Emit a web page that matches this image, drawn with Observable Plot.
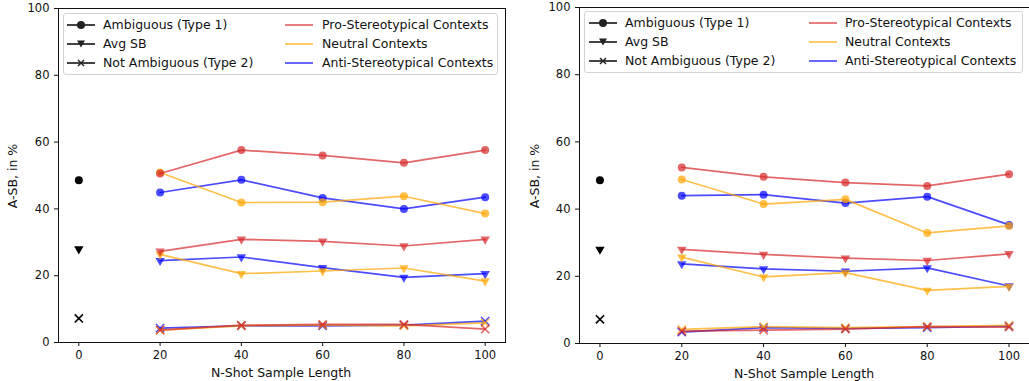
<!DOCTYPE html>
<html><head><meta charset="utf-8">
<script src="https://cdn.jsdelivr.net/npm/d3@7"></script>
<script src="https://cdn.jsdelivr.net/npm/@observablehq/plot@0.6"></script>
<style>
body{margin:0;background:#fff;font-family:"DejaVu Sans",sans-serif;}
#wrap{position:relative;width:1029px;height:381px;overflow:hidden;background:#fff;}
.panel{position:absolute;top:0;}
.legend{position:absolute;border:1px solid #d4d4d4;border-radius:3px;background:rgba(255,255,255,0.8);font-size:12.5px;color:#111;box-sizing:border-box;}
.item{position:absolute;height:14px;line-height:14px;white-space:nowrap;}
.item svg{position:absolute;left:0;top:1px;}
.lab{position:absolute;font-size:12.5px;color:#111;white-space:nowrap;line-height:14px;}
</style></head>
<body>
<div id="wrap"></div>
<script>
// ---------- data ----------
const shots = [20, 40, 60, 80, 100];
const metrics = ["Ambiguous (Type 1)", "Avg SB", "Not Ambiguous (Type 2)"];
const contexts = ["Pro-Stereotypical Contexts", "Neutral Contexts", "Anti-Stereotypical Contexts"];
const contextColors = ["#d62728", "#ffa500", "#0000ff"];
const baselineShot = 0;
const baselineValues = [48.6, 28.0, 7.2]; // zero-shot, per metric

// left panel: [metric][shot]
const leftPro     = [[50.6, 57.6, 56.0, 53.8, 57.6], [27.3, 30.9, 30.3, 28.9, 30.9], [3.7, 5.2, 5.4, 5.4, 4.0]];
const leftNeutral = [[50.9, 41.9, 42.0, 43.8, 38.6], [26.4, 20.6, 21.4, 22.3, 18.4], [3.7, 5.0, 5.2, 5.0, 5.9]];
const leftAnti    = [[44.9, 48.7, 43.3, 40.0, 43.5], [24.5, 25.6, 22.4, 19.5, 20.6], [4.3, 5.0, 5.0, 5.2, 6.4]];
// right panel
const rightPro     = [[52.4, 49.6, 47.9, 46.9, 50.4], [28.0, 26.5, 25.4, 24.7, 26.7], [3.7, 4.0, 4.3, 5.0, 4.9]];
const rightNeutral = [[48.8, 41.5, 42.9, 32.9, 35.0], [25.7, 19.8, 21.1, 15.8, 17.0], [4.2, 5.0, 4.7, 5.0, 5.4]];
const rightAnti    = [[44.0, 44.3, 41.8, 43.7, 35.3], [23.7, 22.2, 21.5, 22.5, 17.1], [3.4, 4.7, 4.5, 4.7, 5.2]];
const tickValues = [0, 20, 40, 60, 80, 100];
const xLabel = "N-Shot Sample Length";
const yLabel = "A-SB, in %";

// ---------- drawing ----------
function markerFor(mi, color, data, opacity) {
  if (mi === 0) return Plot.dot(data, {x: "x", y: "y", r: 4, fill: color, fillOpacity: opacity, stroke: "none"});
  if (mi === 1) return Plot.dot(data, {x: "x", y: "y", r: 3.5, symbol: "triangle", rotate: 180, fill: color, fillOpacity: opacity, stroke: "none"});
  return Plot.dot(data, {x: "x", y: "y", r: 3.8, symbol: "times", stroke: color, strokeOpacity: opacity, strokeWidth: 1.6, fill: "none"});
}

function panel(series, opts) {
  const marks = [];
  const order = [2, 1, 0];
  for (const ci of order) {
    for (let mi = 0; mi < 3; mi++) {
      const data = shots.map((s, i) => ({x: s, y: series[ci][mi][i]}));
      marks.push(Plot.line(data, {x: "x", y: "y", stroke: contextColors[ci], strokeOpacity: 0.7, strokeWidth: 1.7}));
      marks.push(markerFor(mi, contextColors[ci], data, 0.7));
    }
  }
  for (let mi = 0; mi < 3; mi++) {
    marks.push(markerFor(mi, "black", [{x: baselineShot, y: baselineValues[mi]}], 1));
  }
  return Plot.plot({
    width: opts.width, height: 381,
    marginLeft: opts.ml, marginRight: opts.mr, marginTop: opts.mt, marginBottom: opts.mb,
    style: {fontFamily: "DejaVu Sans", fontSize: "11.5px", background: "transparent", color: "#111", overflow: "visible"},
    x: {domain: [-5, 105]},
    y: {domain: [0, 100]},
    marks: [
      Plot.axisX({ticks: tickValues, tickSize: 4, tickPadding: 4, label: null, fontSize: 11.5}),
      Plot.axisY({ticks: tickValues, tickSize: 4, tickPadding: 5, label: null, fontSize: 11.5}),
      ...marks,
      Plot.frame({stroke: "#111", strokeWidth: 1})
    ]
  });
}

function handleSVG(mi, color, opacity) {
  let m = "";
  if (mi === 0) m = `<circle cx="14" cy="6" r="4" fill="${color}" fill-opacity="${opacity}"/>`;
  else if (mi === 1) m = `<polygon points="10,2.5 18,2.5 14,9.5" fill="${color}" fill-opacity="${opacity}"/>`;
  else if (mi === 2) m = `<g stroke="${color}" stroke-opacity="${opacity}" stroke-width="1.4"><line x1="11" y1="3" x2="17" y2="9"/><line x1="17" y1="3" x2="11" y2="9"/></g>`;
  return `<svg width="28" height="12"><line x1="0" y1="6" x2="28" y2="6" stroke="${color}" stroke-opacity="${opacity}" stroke-width="1.7"/>${m}</svg>`;
}

function legend(L) {
  const box = document.createElement("div");
  box.className = "legend";
  Object.assign(box.style, {left: L.left + "px", top: L.top + "px", width: L.w + "px", height: L.h + "px"});
  const rows = [11, 30, 49];
  metrics.forEach((name, i) => {
    const it = document.createElement("div");
    it.className = "item";
    Object.assign(it.style, {left: L.c1 + "px", top: (rows[i] - 7) + "px"});
    it.innerHTML = handleSVG(i, "#222", 1) + `<span style="position:absolute;left:${L.t1 - L.c1}px">${name}</span>`;
    box.appendChild(it);
  });
  contexts.forEach((name, i) => {
    const it = document.createElement("div");
    it.className = "item";
    Object.assign(it.style, {left: L.c2 + "px", top: (rows[i] - 7) + "px"});
    it.innerHTML = handleSVG(-1, contextColors[i], 0.7) + `<span style="position:absolute;left:${L.t2 - L.c2}px">${name}</span>`;
    box.appendChild(it);
  });
  return box;
}

function labels(cx, cy, yx, yy) {
  const a = document.createElement("div");
  a.className = "lab"; a.textContent = xLabel;
  Object.assign(a.style, {left: cx + "px", top: cy + "px", transform: "translate(-50%,-50%)"});
  wrap.appendChild(a);
  const b = document.createElement("div");
  b.className = "lab"; b.textContent = yLabel;
  Object.assign(b.style, {left: yx + "px", top: yy + "px", transform: "translate(-50%,-50%) rotate(-90deg)"});
  wrap.appendChild(b);
}

const wrap = document.getElementById("wrap");
const left = panel([leftPro, leftNeutral, leftAnti], {width: 520, ml: 58, mr: 15, mt: 8, mb: 39});
left.classList.add("panel"); left.style.left = "0px";
wrap.appendChild(left);
const right = panel([rightPro, rightNeutral, rightAnti], {width: 510, ml: 59, mr: 1, mt: 7, mb: 38});
right.classList.add("panel"); right.style.left = "520px";
wrap.appendChild(right);

labels(281, 373, 13, 176);
labels(804, 374, 535, 176);

wrap.appendChild(legend({left: 63, top: 13, w: 435, h: 62, c1: 3, t1: 39, c2: 221, t2: 258}));
wrap.appendChild(legend({left: 584, top: 11, w: 439, h: 62, c1: 4, t1: 40, c2: 224, t2: 260}));
</script>
</body></html>
